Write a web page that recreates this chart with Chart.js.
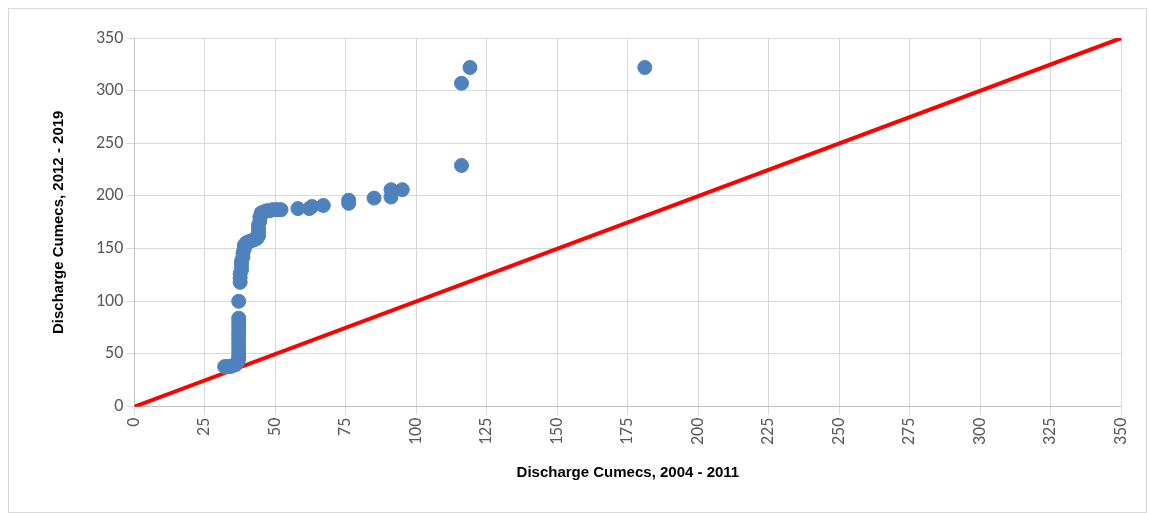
<!DOCTYPE html>
<html><head><meta charset="utf-8">
<script src="https://cdn.jsdelivr.net/npm/chart.js@4"></script>
<style>body{margin:0;background:#fff}#w{position:absolute;left:8px;top:8px;width:1139px;height:505px;border:1px solid #d9d9d9;box-sizing:border-box}</style>
</head><body><div id="w"><canvas id="c"></canvas></div>
<script>
const xVals = [32,33,34,35,36,36.5,37,37,37,37,37,37,37,37,37,37,37,37,37.5,37.5,37.5,38,38,38,38.5,38.5,39,39,39.5,40,41,42,43,43.5,44,44,44,44,44.5,44.5,45,45,46,47,48,49,50,51,52,58,62,63,67,76,76,85,91,91,95,116,116,119,181];
const yVals = [38,38,38,39,40,42,45,48,52,56,60,64,68,72,76,80,84,100,118,122,126,130,134,138,142,146,150,153,155,156,157,158,159,160,162,165,168,172,176,180,182,184,185,186,186,187,187,187,187,188,188,190,191,193,196,198,199,206,206,229,307,322,322];
const diagonal = [0,350];

const pts = xVals.map((x, i) => ({x, y: yVals[i]}));
new Chart(document.getElementById('c'), {
  type: 'scatter',
  data: { datasets: [
    { data: pts, backgroundColor: '#4f81bd', borderColor: '#4f81bd', pointRadius: 7, pointHoverRadius: 7 },
    { type: 'line', data: diagonal.map(v => ({x: v, y: v})), borderColor: '#ff0000', borderWidth: 4, pointRadius: 0 }
  ]},
  options: {
    responsive: true, maintainAspectRatio: false, animation: false,
    layout: { padding: { top: 29, right: 5, bottom: 26, left: 37 } },
    plugins: { legend: { display: false }, tooltip: { enabled: false } },
    scales: {
      x: { type: 'linear', min: 0, max: 350,
        ticks: { stepSize: 25, maxRotation: 90, minRotation: 90, color: '#595959', font: { family: 'Carlito, Calibri, Liberation Sans', size: 18 } },
        grid: { color: '#d9d9d9' },
        title: { display: true, text: 'Discharge Cumecs, 2004 - 2011', font: { weight: 'bold', size: 15 }, color: '#000', padding: { top: 16 } } },
      y: { min: 0, max: 350,
        ticks: { stepSize: 50, color: '#595959', font: { family: 'Carlito, Calibri, Liberation Sans', size: 18 } },
        grid: { color: '#d9d9d9' },
        title: { display: true, text: 'Discharge Cumecs, 2012 - 2019', font: { weight: 'bold', size: 15 }, color: '#000', padding: { bottom: 25 } } }
    }
  }
});
</script></body></html>
